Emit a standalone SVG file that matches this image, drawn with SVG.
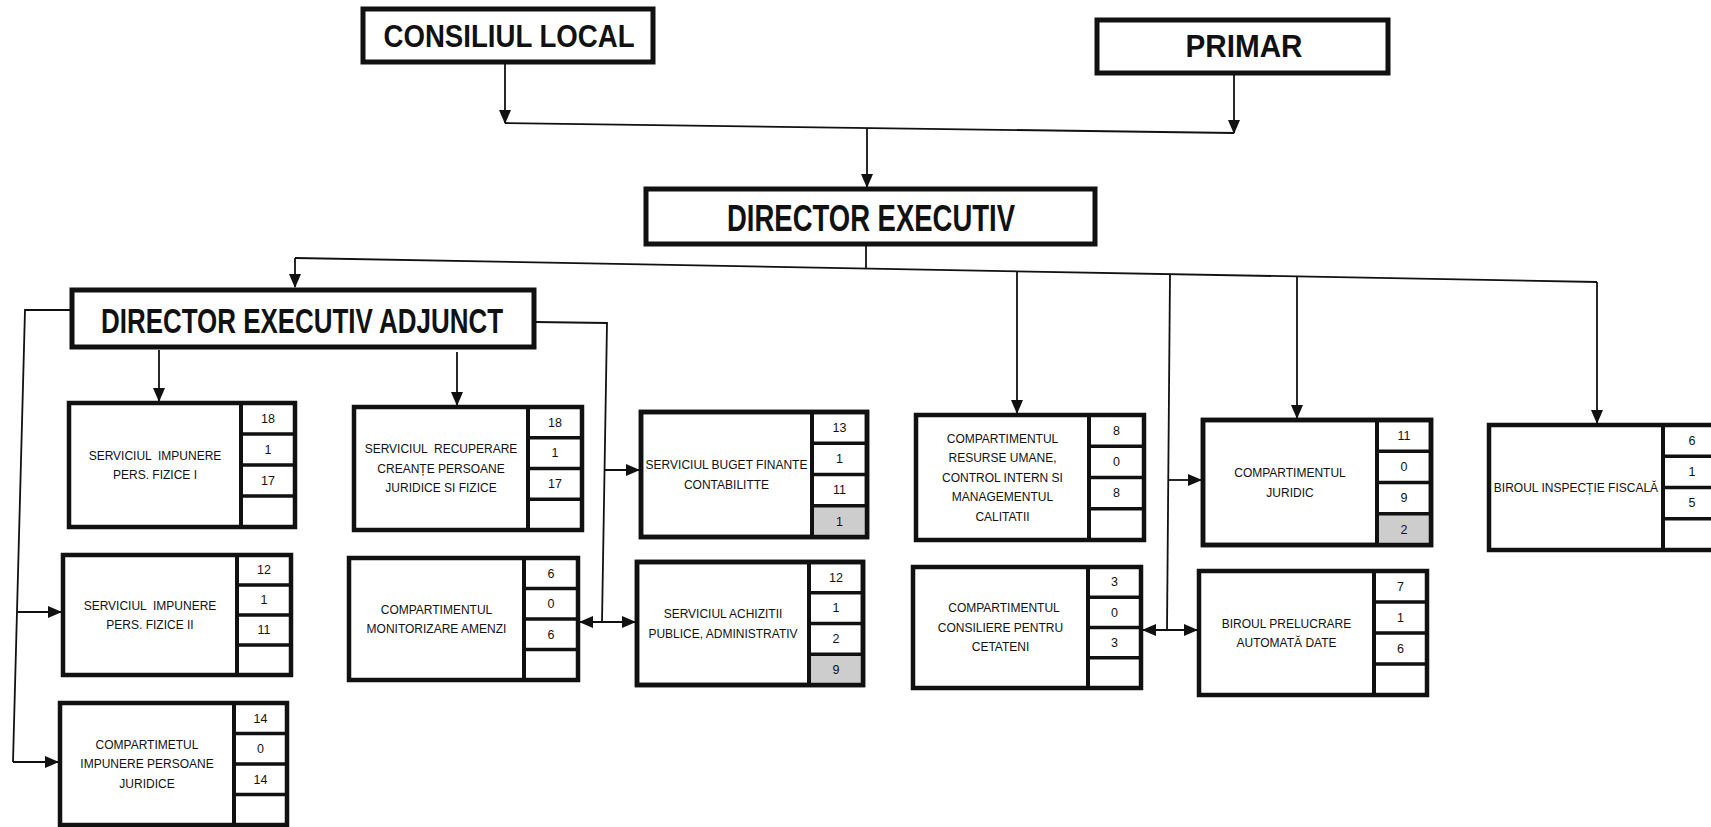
<svg xmlns="http://www.w3.org/2000/svg" width="1711" height="827" viewBox="0 0 1711 827">
<style>
.bg{fill:#fff}
.big{fill:#fff;stroke:#111;stroke-width:5}
.box{fill:#fff;stroke:#111;stroke-width:4.5}
.div{stroke:#111;stroke-width:4;fill:none}
.sep{stroke:#111;stroke-width:3.5;fill:none}
.gray{fill:#cdcdcd}
.ttl{font-family:"Liberation Sans",Arial,sans-serif;font-weight:bold;fill:#111;text-anchor:middle}
.t{font-family:"Liberation Sans",Arial,sans-serif;font-size:12px;fill:#111;text-anchor:middle;white-space:pre}
.n{font-family:"Liberation Sans",Arial,sans-serif;font-size:12.5px;fill:#111;text-anchor:middle}
.c{fill:none;stroke:#111;stroke-width:1.8}
.a{fill:none;stroke:#111;stroke-width:1.8;marker-end:url(#ah)}
.aa{fill:none;stroke:#111;stroke-width:1.8;marker-end:url(#ah);marker-start:url(#ah)}
</style>
<defs>
<marker id="ah" viewBox="0 0 14 12" refX="13" refY="6" markerWidth="14" markerHeight="12" markerUnits="userSpaceOnUse" orient="auto-start-reverse"><path d="M0,0 L14,6 L0,12 z" fill="#111"/></marker>
</defs>
<rect class="bg" x="0" y="0" width="1711" height="827"/>

<g id="connectors">
<path class="a" d="M505,63 V123"/>
<path class="a" d="M1234,75 V133"/>
<path class="c" d="M505,123 L1234,133"/>
<path class="a" d="M867,128 V187"/>
<path class="c" d="M866,244 V268"/>
<path class="c" d="M295,258 L1597,282"/>
<path class="a" d="M295,258 V287"/>
<path class="a" d="M1017,271 V413"/>
<path class="c" d="M1170,274 L1167,630"/>
<path class="a" d="M1169,480 H1201"/>
<path class="aa" d="M1143,630 H1197"/>
<path class="a" d="M1297,276 V418"/>
<path class="a" d="M1597,282 V423"/>
<path class="c" d="M71,310 H25 L13,762"/>
<path class="a" d="M13,762 H58"/>
<path class="a" d="M17,612 H61"/>
<path class="c" d="M535,322 L607,323 L602,622"/>
<path class="a" d="M605,470 H639"/>
<path class="aa" d="M580,622 H635"/>
<path class="a" d="M159,350 V401"/>
<path class="a" d="M457,352 V405"/>
</g>

<g id="consiliul-local">
<rect class="big" x="363" y="9" width="290" height="53"/>
<text class="ttl" x="509" y="47" font-size="31" textLength="251" lengthAdjust="spacingAndGlyphs">CONSILIUL LOCAL</text>
</g>
<g id="primar">
<rect class="big" x="1097" y="20" width="291" height="53"/>
<text class="ttl" x="1244" y="57" font-size="31" textLength="117" lengthAdjust="spacingAndGlyphs">PRIMAR</text>
</g>
<g id="director-executiv">
<rect class="big" x="646" y="189" width="449" height="55"/>
<text class="ttl" x="871" y="231" font-size="37" textLength="288" lengthAdjust="spacingAndGlyphs">DIRECTOR EXECUTIV</text>
</g>
<g id="director-executiv-adjunct">
<rect class="big" x="72" y="290" width="462" height="57"/>
<text class="ttl" x="302" y="333" font-size="35" textLength="402" lengthAdjust="spacingAndGlyphs">DIRECTOR EXECUTIV ADJUNCT</text>
</g>

<g id="serv-impunere-pf1">
<rect class="box" x="69" y="403" width="226" height="124"/>
<path class="div" d="M241,403 V527"/>
<path class="sep" d="M241,434 H295 M241,465 H295 M241,496 H295"/>
<text class="t" x="155" y="459.5">SERVICIUL  IMPUNERE</text>
<text class="t" x="155" y="479">PERS. FIZICE I</text>
<text class="n" x="268" y="423">18</text><text class="n" x="268" y="454">1</text><text class="n" x="268" y="485">17</text>
</g>

<g id="serv-recuperare">
<rect class="box" x="354" y="407" width="228" height="123"/>
<path class="div" d="M528,407 V530"/>
<path class="sep" d="M528,437.75 H582 M528,468.5 H582 M528,499.25 H582"/>
<text class="t" x="441" y="453.3">SERVICIUL  RECUPERARE</text>
<text class="t" x="441" y="472.8">CREANȚE PERSOANE</text>
<text class="t" x="441" y="492.3">JURIDICE SI FIZICE</text>
<text class="n" x="555" y="426.7">18</text><text class="n" x="555" y="457.4">1</text><text class="n" x="555" y="488.2">17</text>
</g>

<g id="serv-buget">
<rect class="box" x="641" y="412" width="226" height="125"/>
<rect class="gray" x="812" y="505.75" width="55" height="31.25"/>
<path class="div" d="M812,412 V537"/>
<path class="sep" d="M812,443.25 H867 M812,474.5 H867 M812,505.75 H867"/>
<rect x="641" y="412" width="226" height="125" fill="none" stroke="#111" stroke-width="4.5"/>
<text class="t" x="726.5" y="469">SERVICIUL BUGET FINANTE</text>
<text class="t" x="726.5" y="488.6">CONTABILITTE</text>
<text class="n" x="839.5" y="431.9">13</text><text class="n" x="839.5" y="463.2">1</text><text class="n" x="839.5" y="494.4">11</text><text class="n" x="839.5" y="525.7">1</text>
</g>

<g id="comp-resurse-umane">
<rect class="box" x="916" y="415" width="228" height="125"/>
<path class="div" d="M1089,415 V540"/>
<path class="sep" d="M1089,446.25 H1144 M1089,477.5 H1144 M1089,508.75 H1144"/>
<text class="t" x="1002.5" y="442.6">COMPARTIMENTUL</text>
<text class="t" x="1002.5" y="462.2">RESURSE UMANE,</text>
<text class="t" x="1002.5" y="481.8">CONTROL INTERN SI</text>
<text class="t" x="1002.5" y="501.4">MANAGEMENTUL</text>
<text class="t" x="1002.5" y="521">CALITATII</text>
<text class="n" x="1116.5" y="434.9">8</text><text class="n" x="1116.5" y="466.2">0</text><text class="n" x="1116.5" y="497.4">8</text>
</g>

<g id="comp-juridic">
<rect class="box" x="1203" y="420" width="228" height="125"/>
<rect class="gray" x="1377" y="513.75" width="54" height="31.25"/>
<path class="div" d="M1377,420 V545"/>
<path class="sep" d="M1377,451.25 H1431 M1377,482.5 H1431 M1377,513.75 H1431"/>
<rect x="1203" y="420" width="228" height="125" fill="none" stroke="#111" stroke-width="4.5"/>
<text class="t" x="1290" y="477">COMPARTIMENTUL</text>
<text class="t" x="1290" y="496.6">JURIDIC</text>
<text class="n" x="1404" y="439.9">11</text><text class="n" x="1404" y="471.2">0</text><text class="n" x="1404" y="502.4">9</text><text class="n" x="1404" y="533.7">2</text>
</g>

<g id="birou-inspectie">
<rect class="box" x="1489" y="425" width="228" height="125"/>
<path class="div" d="M1663,425 V550"/>
<path class="sep" d="M1663,456.25 H1717 M1663,487.5 H1717 M1663,518.75 H1717"/>
<text class="t" x="1576" y="491.8">BIROUL INSPECȚIE FISCALĂ</text>
<text class="n" x="1692" y="444.9">6</text><text class="n" x="1692" y="476.2">1</text><text class="n" x="1692" y="507.4">5</text>
</g>

<g id="serv-impunere-pf2">
<rect class="box" x="63" y="555" width="228" height="120"/>
<path class="div" d="M237,555 V675"/>
<path class="sep" d="M237,585 H291 M237,615 H291 M237,645 H291"/>
<text class="t" x="150" y="609.5">SERVICIUL  IMPUNERE</text>
<text class="t" x="150" y="629.1">PERS. FIZICE II</text>
<text class="n" x="264" y="574.3">12</text><text class="n" x="264" y="604.3">1</text><text class="n" x="264" y="634.3">11</text>
</g>

<g id="comp-monitorizare">
<rect class="box" x="349" y="558" width="229" height="122"/>
<path class="div" d="M524,558 V680"/>
<path class="sep" d="M524,588.5 H578 M524,619 H578 M524,649.5 H578"/>
<text class="t" x="436.5" y="613.5">COMPARTIMENTUL</text>
<text class="t" x="436.5" y="633.1">MONITORIZARE AMENZI</text>
<text class="n" x="551" y="577.6">6</text><text class="n" x="551" y="608.1">0</text><text class="n" x="551" y="638.6">6</text>
</g>

<g id="serv-achizitii">
<rect class="box" x="637" y="562" width="226" height="123"/>
<rect class="gray" x="809" y="654.25" width="54" height="30.75"/>
<path class="div" d="M809,562 V685"/>
<path class="sep" d="M809,592.75 H863 M809,623.5 H863 M809,654.25 H863"/>
<rect x="637" y="562" width="226" height="123" fill="none" stroke="#111" stroke-width="4.5"/>
<text class="t" x="723" y="618">SERVICIUL ACHIZITII</text>
<text class="t" x="723" y="637.6">PUBLICE, ADMINISTRATIV</text>
<text class="n" x="836" y="581.7">12</text><text class="n" x="836" y="612.4">1</text><text class="n" x="836" y="643.2">2</text><text class="n" x="836" y="673.9">9</text>
</g>

<g id="comp-consiliere">
<rect class="box" x="913" y="567" width="228" height="121"/>
<path class="div" d="M1088,567 V688"/>
<path class="sep" d="M1088,597.25 H1141 M1088,627.5 H1141 M1088,657.75 H1141"/>
<text class="t" x="1004" y="612.2">COMPARTIMENTUL</text>
<text class="t" x="1000.5" y="631.8">CONSILIERE PENTRU</text>
<text class="t" x="1000.5" y="651.4">CETATENI</text>
<text class="n" x="1114.5" y="586.4">3</text><text class="n" x="1114.5" y="616.7">0</text><text class="n" x="1114.5" y="646.9">3</text>
</g>

<g id="birou-prelucrare">
<rect class="box" x="1199" y="571" width="228" height="124"/>
<path class="div" d="M1374,571 V695"/>
<path class="sep" d="M1374,602 H1427 M1374,633 H1427 M1374,664 H1427"/>
<text class="t" x="1286.5" y="627.5">BIROUL PRELUCRARE</text>
<text class="t" x="1286.5" y="647.1">AUTOMATĂ DATE</text>
<text class="n" x="1400.5" y="590.8">7</text><text class="n" x="1400.5" y="621.8">1</text><text class="n" x="1400.5" y="652.8">6</text>
</g>

<g id="comp-impunere-pj">
<rect class="box" x="60" y="703" width="227" height="122"/>
<path class="div" d="M234,703 V825"/>
<path class="sep" d="M234,733.5 H287 M234,764 H287 M234,794.5 H287"/>
<text class="t" x="147" y="748.7">COMPARTIMETUL</text>
<text class="t" x="147" y="768.3">IMPUNERE PERSOANE</text>
<text class="t" x="147" y="787.9">JURIDICE</text>
<text class="n" x="260.5" y="722.6">14</text><text class="n" x="260.5" y="753.1">0</text><text class="n" x="260.5" y="783.6">14</text>
</g>
</svg>
